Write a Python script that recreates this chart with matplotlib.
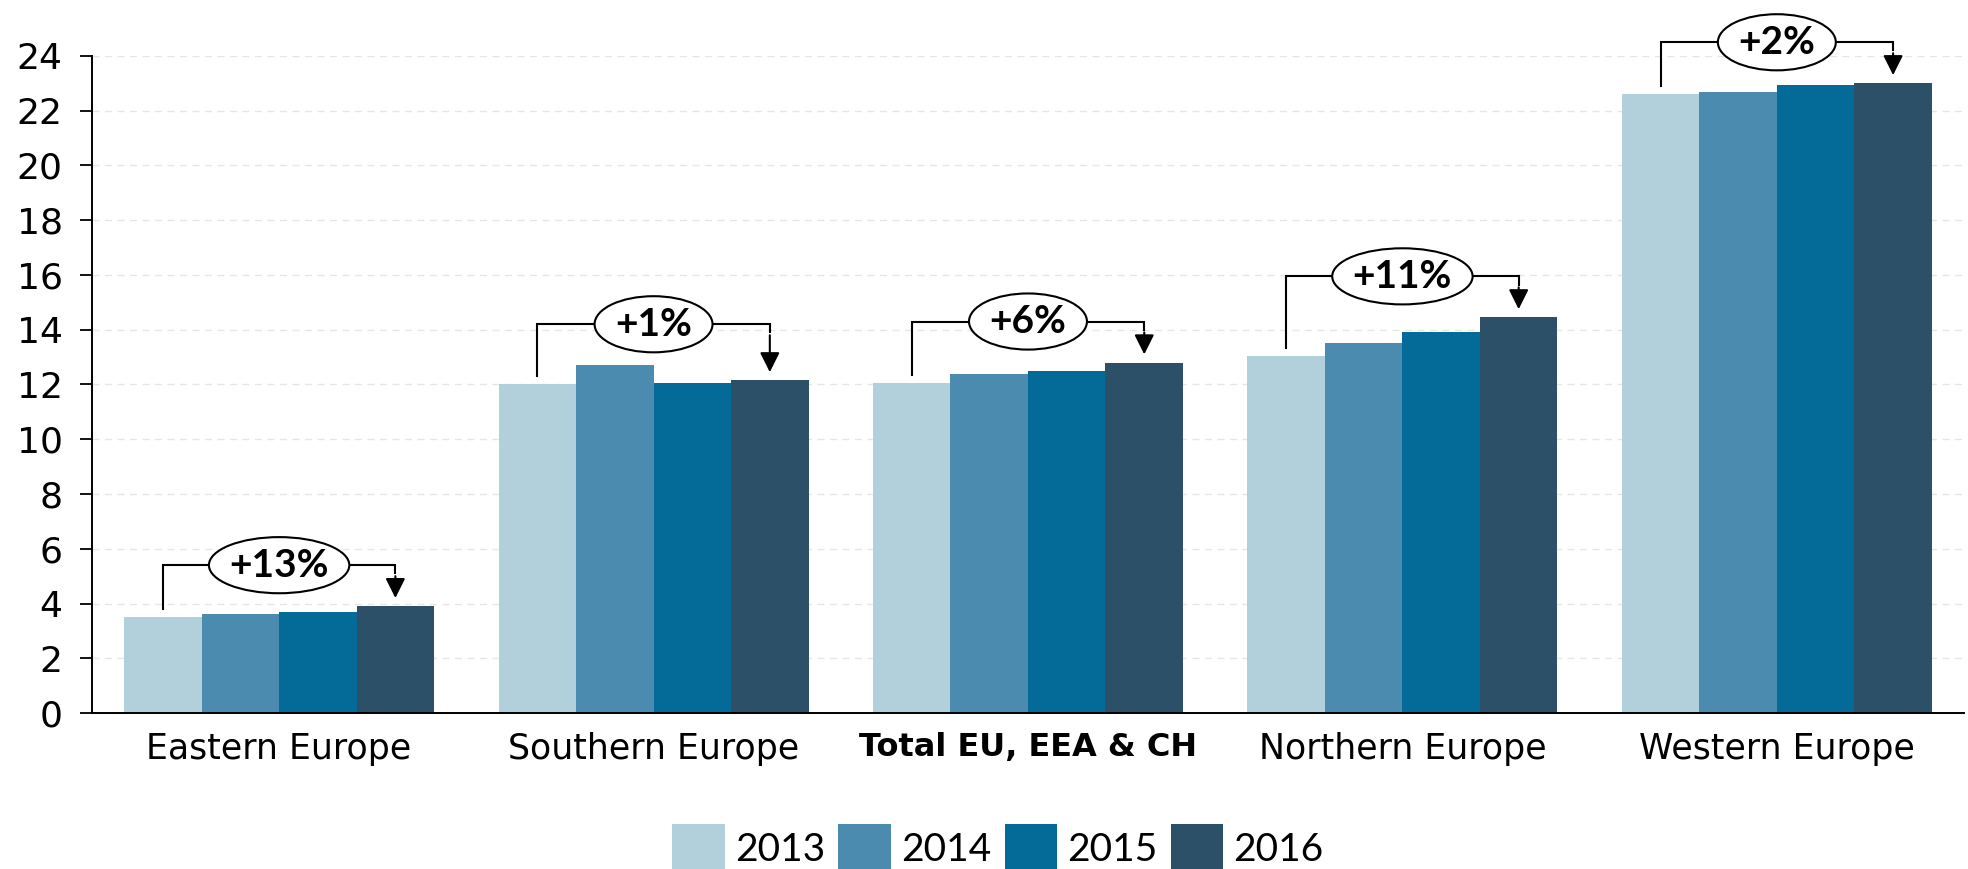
import numpy as np
import matplotlib.pyplot as plt
from matplotlib.patches import Ellipse

plt.rcParams['font.family'] = ['DejaVu Sans']

regions = ["Eastern Europe", "Southern Europe", "Total EU, EEA & CH",
           "Northern Europe", "Western Europe"]
years = ["2013", "2014", "2015", "2016"]
values = {
    "2013": [3.5, 12.0, 12.05, 13.05, 22.6],
    "2014": [3.6, 12.7, 12.4, 13.5, 22.7],
    "2015": [3.7, 12.05, 12.5, 13.9, 22.95],
    "2016": [3.9, 12.15, 12.8, 14.45, 23.0],
}
changes = ["+13%", "+1%", "+6%", "+11%", "+2%"]
colors = ["#b1d0dc", "#4b8bb0", "#046b99", "#2c5067"]

fig = plt.figure(figsize=(19.68, 8.69), dpi=100)
ax = fig.add_axes([0.0467, 0.1795, 0.9513, 0.7561])

x = np.arange(len(regions))
w = 0.207
for i, yr in enumerate(years):
    ax.bar(x + (i - 1.5) * w, values[yr], w, color=colors[i], label=yr, zorder=2)

# growth brackets with ellipse labels
for k in range(len(regions)):
    v0 = values[years[0]][k]
    v3 = values[years[-1]][k]
    top = max(values[yr][k] for yr in years) + 1.5
    x0 = x[k] - 1.5 * w
    x3 = x[k] + 1.5 * w
    ax.plot([x0, x0, x3, x3], [v0 + 0.3, top, top, top - 0.3], color='black',
            lw=1.5, zorder=3, clip_on=False, solid_joinstyle='miter')
    ax.annotate("", xy=(x3, v3 + 0.3), xytext=(x3, top - 0.4),
                arrowprops=dict(arrowstyle='-|>', color='black', lw=1.5,
                                mutation_scale=30, shrinkA=0, shrinkB=0),
                zorder=3, annotation_clip=False)
    ax.add_patch(Ellipse((x[k], top), 0.375 if len(changes[k]) > 3 else 0.315, 2.05,
                         fc='white', ec='black', lw=1.5, zorder=4, clip_on=False))
    ax.text(x[k], top, changes[k], ha='center', va='center', fontsize=28,
            fontweight='bold', family='Lato', zorder=5, clip_on=False)

ax.set_xlim(-0.5, 4.5)
ax.set_ylim(0, 24)
ax.set_yticks(np.arange(0, 25, 2))
ax.set_xticks(x)
ax.set_xticklabels(regions, fontsize=25)
ax.get_xticklabels()[2].set_fontweight('bold')
ax.get_xticklabels()[2].set_fontsize(23)
ax.tick_params(axis='x', length=0, pad=14)
ax.tick_params(axis='y', labelsize=26, length=9, width=1.3, pad=12)
ax.grid(axis='y', color='#e6e6e6', linestyle=(0, (5, 4)), lw=1, zorder=0)
for s in ['top', 'right']:
    ax.spines[s].set_visible(False)
ax.spines['left'].set_linewidth(1.4)
ax.spines['bottom'].set_linewidth(1.4)

fig.legend(loc='center', bbox_to_anchor=(0.507, 0.024), ncol=4, frameon=False,
           prop={'family': 'Lato', 'size': 28}, handlelength=1.35, handleheight=1.5,
           handletextpad=0.25, columnspacing=0.35)

fig.savefig("out.png", dpi=100)
